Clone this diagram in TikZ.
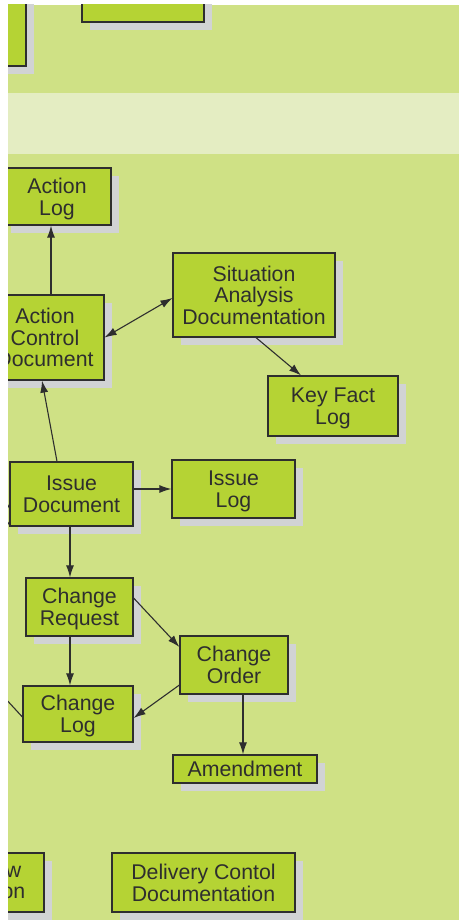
\documentclass[tikz,border=0pt]{standalone}
\usepackage{fontspec}
\setmainfont{Liberation Sans}
\usetikzlibrary{arrows.meta,shadows}

\definecolor{pagegreen}{HTML}{CFE185}
\definecolor{bandgreen}{HTML}{E4EDC2}
\definecolor{boxgreen}{HTML}{B5D334}
\definecolor{shadowgray}{HTML}{D1D3D4}
\definecolor{inkgray}{HTML}{2E2E2E}

\begin{document}
\begin{tikzpicture}[x=1pt, y=-1pt,
    doc/.style={draw=inkgray, line width=1.2pt, fill=boxgreen, inner sep=0pt,
        align=center, text=inkgray, text depth=0pt, font=\fontsize{21.3}{21.7}\selectfont,
        drop shadow={shadow xshift=8pt, shadow yshift=-8pt, fill=shadowgray, opacity=1}},
    link/.style={draw=inkgray, line width=1.1pt, -{Latex[length=12pt,width=8pt]}}]
            \useasboundingbox (0,0) rectangle (459,920);
            \begin{scope}
            \clip (8,5) rectangle (459,920);
            \fill[pagegreen] (8,5) rectangle (459,920);
            \fill[bandgreen] (8,93) rectangle (459,154);

            % cut-off boxes at the edges
            \node[doc, minimum width=92, minimum height=72] (topleft) at (-20,30) {};
            \node[doc, minimum width=122, minimum height=44] (toptop) at (143,0) {};
            \node[doc, minimum width=61, minimum height=59] (reviewdoc) at (13.5,882.5) {w\\on};

            \node[doc, minimum width=108, minimum height=57] (actionlog) at (57,196.5) {Action\\Log};
            \node[doc, minimum width=118, minimum height=85] (actctrl) at (45,337.5) {Action\\Control\\Document};
            \node[doc, minimum width=162, minimum height=84] (situation) at (254,295) {Situation\\Analysis\\Documentation};
            \node[doc, minimum width=130, minimum height=60] (keyfact) at (333,406) {Key Fact\\Log};
            \node[doc, minimum width=123, minimum height=64] (issuedoc) at (71.5,494) {Issue\\Document};
            \node[doc, minimum width=123, minimum height=58] (issuelog) at (233.5,489) {Issue\\Log};
            \node[doc, minimum width=107, minimum height=58] (changereq) at (79.5,607) {Change\\Request};
            \node[doc, minimum width=108, minimum height=58] (changeorder) at (234,665) {Change\\Order};
            \node[doc, minimum width=110, minimum height=56] (changelog) at (78,714) {Change\\Log};
            \node[doc, minimum width=144, minimum height=28] (amendment) at (245,769) {Amendment};
            \node[doc, minimum width=183, minimum height=59] (delivery) at (203.5,882.5) {Delivery Contol\\Documentation};

            \coordinate (offa) at (-10,470);
            \coordinate (offb) at (-6,545);
            \coordinate (offc) at (-8,684);

            \draw[link] ([xshift=6pt]actctrl.north) -- ([xshift=-6pt]actionlog.south);
            \draw[link, {Latex[length=12pt,width=8pt]}-{Latex[length=12pt,width=8pt]}] (actctrl.east) -- ([yshift=-3pt]situation.west);
            \draw[link] ([xshift=2pt]situation.south) -- ([xshift=-32pt]keyfact.north);
            \draw[link] ([xshift=-14.5pt]issuedoc.north) -- ([xshift=-3pt]actctrl.south);
            \draw[link] (issuedoc.east |- issuelog.west) -- (issuelog.west);
            \draw[link] ([xshift=-1.5pt]issuedoc.south) -- ([xshift=-1.5pt]issuedoc.south |- changereq.north);
            \draw[link] ([yshift=9pt]changereq.east) -- ([yshift=18pt]changeorder.west);
            \draw[link] ([xshift=-9.5pt]changereq.south) -- ([xshift=-8pt]changelog.north);
            \draw[link] ([yshift=-20pt]changeorder.west) -- ([yshift=-4pt]changelog.east);
            \draw[link] ([xshift=9pt]changeorder.south) -- ([xshift=-2pt]amendment.north);

            \draw[draw=inkgray, line width=1.1pt] (offa) -- ([yshift=-14pt]issuedoc.west);
            \draw[draw=inkgray, line width=1.1pt] (offb) -- ([yshift=-28pt]issuedoc.west);
            \draw[draw=inkgray, line width=1.1pt] (offc) -- ([yshift=-3pt]changelog.west);
            \end{scope}
        \end{tikzpicture}
\end{document}
